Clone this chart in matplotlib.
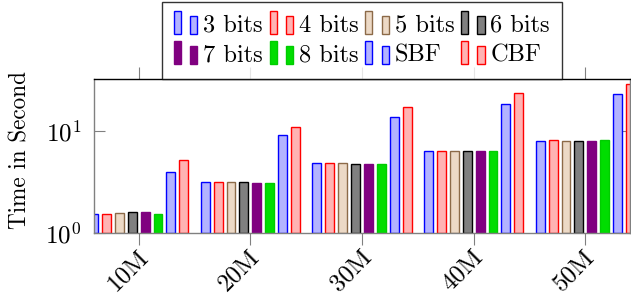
import matplotlib
matplotlib.use("Agg")
import matplotlib.pyplot as plt
import numpy as np
from matplotlib.patches import Rectangle
from matplotlib.legend_handler import HandlerBase
from matplotlib.transforms import ScaledTranslation

plt.rcParams['font.family'] = ['cmr10', 'DejaVu Serif']
plt.rcParams['mathtext.fontset'] = 'cm'
plt.rcParams['axes.formatter.use_mathtext'] = True

categories = ["10M", "20M", "30M", "40M", "50M"]
series_names = ["3 bits", "4 bits", "5 bits", "6 bits", "7 bits", "8 bits", "SBF", "CBF"]
bits3 = [1.52, 3.18, 4.82, 6.37, 7.98]
bits4 = [1.52, 3.18, 4.82, 6.37, 8.22]
bits5 = [1.56, 3.18, 4.82, 6.37, 7.98]
bits6 = [1.60, 3.18, 4.72, 6.30, 7.98]
bits7 = [1.60, 3.11, 4.72, 6.30, 7.98]
bits8 = [1.52, 3.11, 4.72, 6.37, 8.11]
sbf = [3.94, 9.14, 13.8, 18.3, 23.2]
cbf = [5.16, 10.9, 17.3, 23.4, 28.9]
series = [bits3, bits4, bits5, bits6, bits7, bits8, sbf, cbf]

fills = ["#b3b3ff", "#ffb3b3", "#ecd9c6", "#808080", "#800080", "#00dd00", "#b3b3ff", "#ffb3b3"]
edges = ["#0000ff", "#ff0000", "#8c6a48", "#000000", "#800080", "#00cc00", "#0000ff", "#ff0000"]

FS_TICK = 18
FS_LEG = 17.6
FS_LAB = 16.7

fig = plt.figure(figsize=(6.31, 2.99), dpi=100)
ax = fig.add_axes([94/631, 1-233/299, (630-94)/631, (233-79)/299])

x = np.arange(len(categories))
step = 0.1155
width = 0.08
for j, (vals, fc, ec) in enumerate(zip(series, fills, edges)):
    v = np.array(vals)
    ax.bar(x + (j - 3.5) * step, v - 1.0, width=width, bottom=1.0, color=fc,
           edgecolor=ec, linewidth=1.0, label=series_names[j], zorder=2)

ax.set_yscale('log')
ax.set_ylim(1, 32.3)
ax.set_xlim(-0.4, 4.4)
ax.yaxis.set_minor_locator(matplotlib.ticker.NullLocator())
ax.set_yticks([1, 10])
ax.set_xticks(x)
ax.set_xticklabels(categories, rotation=45, ha='right', va='center', rotation_mode='anchor')
ax.tick_params(axis='x', direction='out', length=8.5, width=0.8, color='#808080',
               top=True, labelsize=FS_TICK, pad=6)
ax.tick_params(axis='y', direction='in', length=8, width=0.8, color='#808080',
               right=True, labelsize=FS_TICK, pad=9)
for lab in ax.get_xticklabels():
    lab.set_transform(lab.get_transform() + ScaledTranslation(6/100, 0, fig.dpi_scale_trans))
ax.set_ylabel("Time in Second", fontsize=FS_LAB)
ax.yaxis.set_label_coords(-0.116, 0.54)
for s in ['left', 'bottom', 'right']:
    ax.spines[s].set_color('#808080')
ax.spines['top'].set_color('black')
for s in ax.spines.values():
    s.set_linewidth(1.0)


class TwoBarHandler(HandlerBase):
    def create_artists(self, legend, orig_handle, xdescent, ydescent, width, height, fontsize, trans):
        fc = orig_handle.get_facecolor()
        ec = orig_handle.get_edgecolor()
        bw = width * 0.29
        y0 = -ydescent - 0.15 * height
        r1 = Rectangle((-xdescent, y0), bw, height * 1.35,
                       facecolor=fc, edgecolor=ec, lw=1.0, transform=trans)
        r2 = Rectangle((-xdescent + width * 0.67, y0), bw, height * 1.05,
                       facecolor=fc, edgecolor=ec, lw=1.0, transform=trans)
        return [r1, r2]

handles, labels = ax.get_legend_handles_labels()
handles = [h.patches[0] for h in handles]
order = [0, 4, 1, 5, 2, 6, 3, 7]
handles = [handles[i] for i in order]
labels = [labels[i] for i in order]
leg = ax.legend(handles, labels, ncol=4, loc='lower center', bbox_to_anchor=(0.5, 1.0),
                borderaxespad=0, frameon=True, fancybox=False, fontsize=FS_LEG,
                handler_map={Rectangle: TwoBarHandler()},
                handlelength=1.0, handletextpad=0.2, columnspacing=0.27,
                labelspacing=0.33, borderpad=0.5)
leg.get_frame().set_edgecolor('black')
leg.get_frame().set_linewidth(1.0)
leg.set_zorder(10)

fig.savefig("out.png", dpi=100)
